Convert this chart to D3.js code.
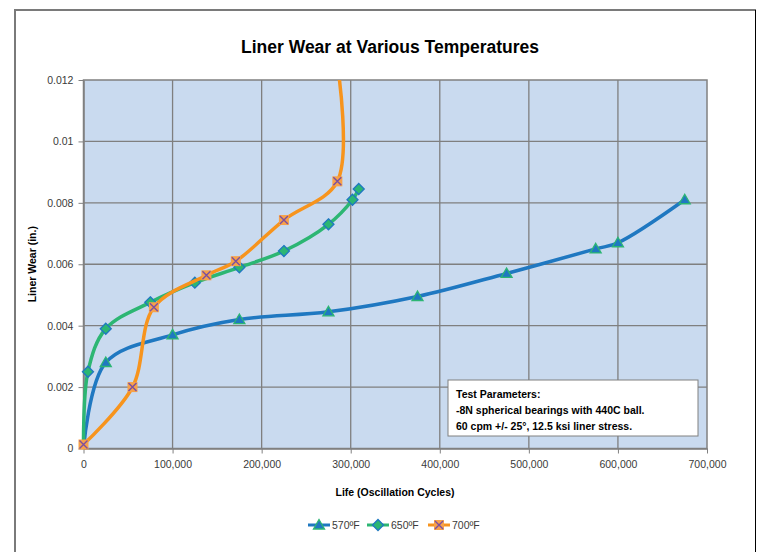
<!DOCTYPE html>
<html>
<head>
<meta charset="utf-8">
<script src="https://cdn.jsdelivr.net/npm/d3@7"></script>
<style>
  body { margin: 0; background: #fff; }
  text { font-family: "Liberation Sans", Arial, sans-serif; }
</style>
</head>
<body>
<div id="chart"></div>
<script>
// data
var cycles570 = [0, 25000, 100000, 175000, 275000, 375000, 475000, 575000, 600000, 675000];
var wear570   = [0, 0.0028, 0.0037, 0.0042, 0.00445, 0.00495, 0.0057, 0.0065, 0.0067, 0.0081];

var cycles650 = [0, 5000, 25000, 75000, 125000, 175000, 225000, 275000, 302000, 309000];
var wear650   = [0, 0.0025, 0.0039, 0.00476, 0.0054, 0.0059, 0.00643, 0.0073, 0.0081, 0.00845];

var cycles700 = [0, 55000, 79000, 138000, 171000, 225000, 285000, 286000];
var wear700   = [0.00013, 0.002, 0.0046, 0.00564, 0.0061, 0.00744, 0.0087, 0.0123];

var seriesNames = ["570ºF", "650ºF", "700ºF"];
var xTicks = [0, 100000, 200000, 300000, 400000, 500000, 600000, 700000];
var yTicks = [0, 0.002, 0.004, 0.006, 0.008, 0.01, 0.012];

var width = 758, height = 552;
var plot = {left: 83.5, right: 707, top: 80, bottom: 448.5};

var svg = d3.select("#chart").append("svg")
  .attr("width", width)
  .attr("height", height);

// outer frame
svg.append("path")
  .attr("d", "M15,560 L15,10 L756,10")
  .attr("fill", "none")
  .attr("stroke", "#7a7a7a")
  .attr("stroke-width", 2);
svg.append("line")
  .attr("x1", 755.5).attr("x2", 755.5).attr("y1", 10).attr("y2", 560)
  .attr("stroke", "#000").attr("stroke-width", 1);

var x = d3.scaleLinear().domain([0, 700000]).range([plot.left, plot.right]);
var y = d3.scaleLinear().domain([0, 0.012]).range([plot.bottom, plot.top]);

svg.append("rect")
  .attr("x", plot.left).attr("y", plot.top)
  .attr("width", plot.right - plot.left).attr("height", plot.bottom - plot.top)
  .attr("fill", "#c9daef");

// grid
svg.append("g").selectAll("line").data(xTicks.slice(1, -1)).enter().append("line")
  .attr("x1", d => x(d)).attr("x2", d => x(d))
  .attr("y1", plot.top).attr("y2", plot.bottom)
  .attr("stroke", "#7f7f7f").attr("stroke-width", 1.3);
svg.append("g").selectAll("line").data(yTicks.slice(1, -1)).enter().append("line")
  .attr("x1", plot.left).attr("x2", plot.right)
  .attr("y1", d => y(d)).attr("y2", d => y(d))
  .attr("stroke", "#7f7f7f").attr("stroke-width", 1.3);

svg.append("rect")
  .attr("x", plot.left).attr("y", plot.top)
  .attr("width", plot.right - plot.left).attr("height", plot.bottom - plot.top)
  .attr("fill", "none").attr("stroke", "#808080").attr("stroke-width", 1.5);

// axes
var xAxis = d3.axisBottom(x).tickValues(xTicks).tickSize(5).tickSizeOuter(0)
  .tickFormat(d3.format(","));
var yAxis = d3.axisLeft(y).tickValues(yTicks).tickSize(5).tickSizeOuter(0)
  .tickFormat(d => d === 0 ? "0" : String(+d.toFixed(3)));

var gx = svg.append("g").attr("transform", `translate(0, ${plot.bottom})`).call(xAxis);
var gy = svg.append("g").attr("transform", `translate(${plot.left}, 0)`).call(yAxis);
[gx, gy].forEach(g => {
  g.select(".domain").attr("stroke", "#808080").attr("stroke-width", 1.5);
  g.selectAll(".tick line").attr("stroke", "#808080");
  g.selectAll(".tick text").attr("fill", "#3a3a3a").style("font-size", "10.5px");
});
gx.selectAll(".tick text").attr("dy", "1.1em");
gy.selectAll(".tick text").attr("dx", "-0.2em");

// titles
svg.append("text")
  .attr("x", 390).attr("y", 53)
  .attr("text-anchor", "middle")
  .style("font-size", "17.5px").style("font-weight", "bold")
  .text("Liner Wear at Various Temperatures");

svg.append("text")
  .attr("x", 395).attr("y", 496)
  .attr("text-anchor", "middle")
  .style("font-size", "10.5px").style("font-weight", "bold")
  .text("Life (Oscillation Cycles)");

svg.append("text")
  .attr("transform", `translate(36, ${(plot.top + plot.bottom) / 2}) rotate(-90)`)
  .attr("text-anchor", "middle")
  .style("font-size", "10.5px").style("font-weight", "bold")
  .text("Liner Wear (in.)");

// series
var series = [
  {name: seriesNames[0], xs: cycles570, ys: wear570, color: "#1f78c1", marker: "triangle"},
  {name: seriesNames[1], xs: cycles650, ys: wear650, color: "#2cb673", marker: "diamond"},
  {name: seriesNames[2], xs: cycles700, ys: wear700, color: "#f7941d", marker: "cross"}
];

svg.append("clipPath").attr("id", "clip").append("rect")
  .attr("x", plot.left - 10).attr("y", plot.top)
  .attr("width", plot.right - plot.left + 20).attr("height", plot.bottom - plot.top + 10);

var line = d3.line()
  .x(d => x(d[0])).y(d => y(d[1]))
  .curve(d3.curveCatmullRom.alpha(0.5));

function drawMarker(g, type, cx, cy) {
  if (type === "triangle") {
    g.append("path")
      .attr("d", `M${cx},${cy - 5.5} L${cx + 5.5},${cy + 4} L${cx - 5.5},${cy + 4} Z`)
      .attr("fill", "#1f78c1").attr("stroke", "#2cb673").attr("stroke-width", 1.3);
  } else if (type === "diamond") {
    g.append("path")
      .attr("d", `M${cx},${cy - 5.5} L${cx + 5.5},${cy} L${cx},${cy + 5.5} L${cx - 5.5},${cy} Z`)
      .attr("fill", "#2cb673").attr("stroke", "#1f78c1").attr("stroke-width", 1.3);
  } else {
    g.append("rect")
      .attr("x", cx - 5).attr("y", cy - 5).attr("width", 10).attr("height", 10)
      .attr("fill", "#f7a14a");
    g.append("path")
      .attr("d", `M${cx - 4},${cy - 4} L${cx + 4},${cy + 4} M${cx + 4},${cy - 4} L${cx - 4},${cy + 4}`)
      .attr("stroke", "#7b4fa0").attr("stroke-width", 1.4);
  }
}

series.forEach(s => {
  var pts = s.xs.map((v, i) => [v, s.ys[i]]);
  svg.append("path")
    .attr("clip-path", "url(#clip)")
    .attr("d", line(pts))
    .attr("fill", "none")
    .attr("stroke", s.color)
    .attr("stroke-width", 3.5);
  var mg = svg.append("g");
  pts.forEach((p, i) => {
    if (p[1] > 0.012) return;
    if (s.marker !== "cross" && i === 0) return;
    drawMarker(mg, s.marker, x(p[0]), y(p[1]));
  });
});

// text box
var box = svg.append("g").attr("transform", "translate(448, 380)");
box.append("rect")
  .attr("width", 250).attr("height", 56)
  .attr("fill", "#fff").attr("stroke", "#808080").attr("stroke-width", 1);
["Test Parameters:", "-8N spherical bearings with 440C ball.", "60 cpm +/- 25°, 12.5 ksi liner stress."]
  .forEach((t, i) => {
    box.append("text")
      .attr("x", 8).attr("y", 18 + i * 16)
      .style("font-size", "10.5px").style("font-weight", "bold")
      .text(t);
  });

// legend
var legendX = [308, 367, 428];
series.forEach((s, i) => {
  var lg = svg.append("g");
  lg.append("line")
    .attr("x1", legendX[i]).attr("x2", legendX[i] + 22)
    .attr("y1", 525).attr("y2", 525)
    .attr("stroke", s.color).attr("stroke-width", 3);
  drawMarker(lg, s.marker, legendX[i] + 11, 525);
  lg.append("text")
    .attr("x", legendX[i] + 24).attr("y", 529)
    .attr("fill", "#3a3a3a")
    .style("font-size", "10.5px")
    .text(s.name);
});
</script>
</body>
</html>
